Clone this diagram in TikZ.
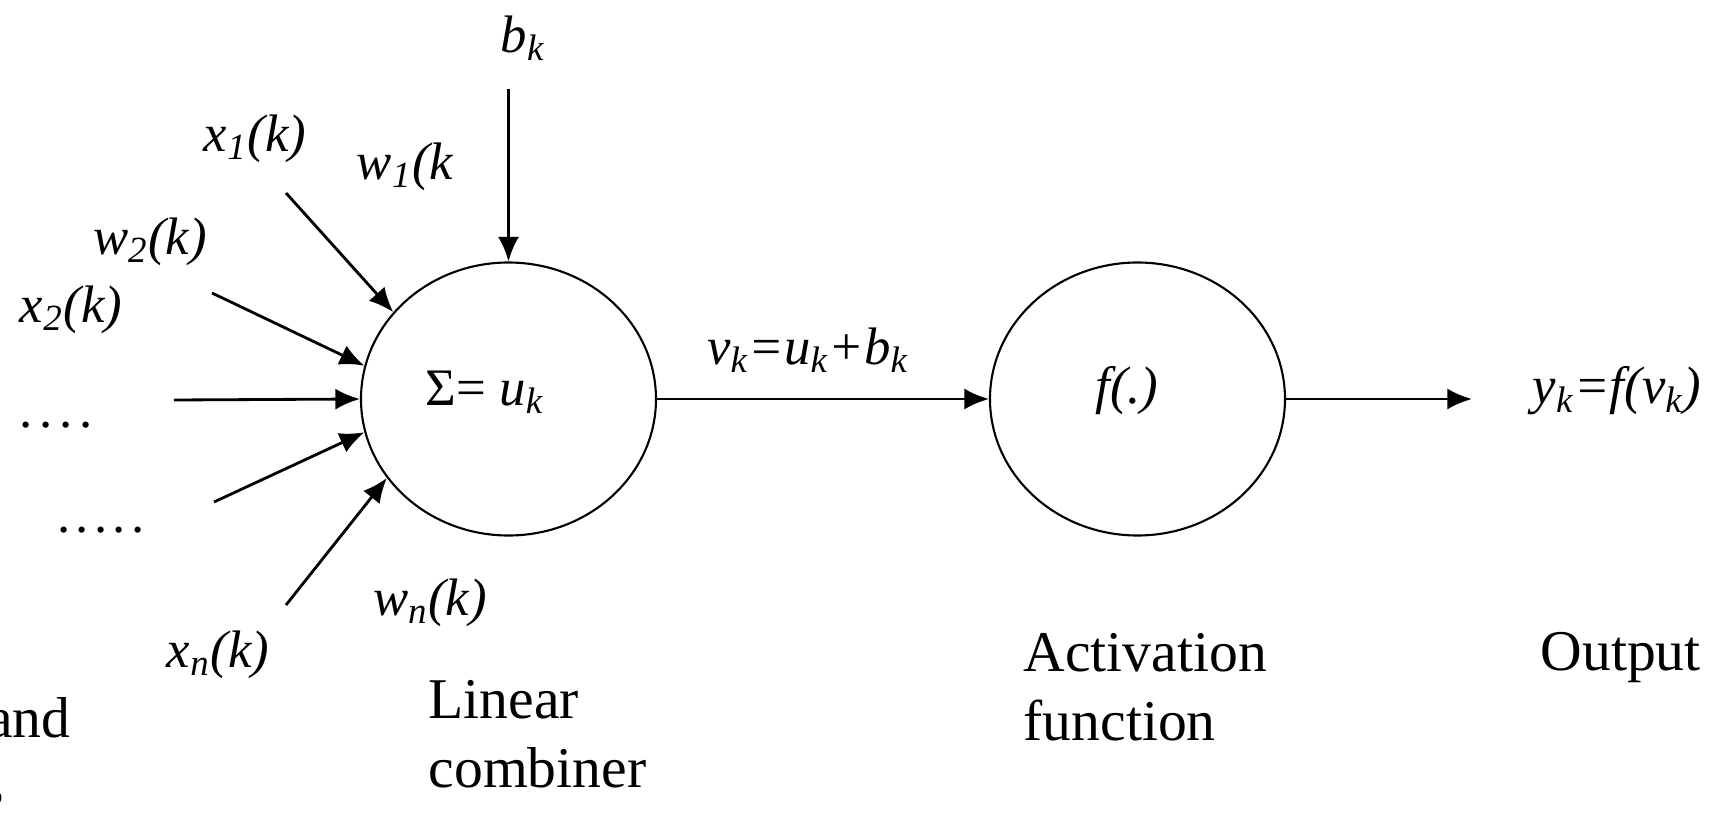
\documentclass[tikz,border=0pt]{standalone}
\usepackage{fontspec}
\setmainfont{Liberation Serif}
\usetikzlibrary{arrows.meta,shapes.geometric}

\begin{document}
\begin{tikzpicture}[>={Latex[length=7pt,width=6pt]},
   unit/.style={draw,ellipse,line width=0.6pt,minimum width=2.95cm,minimum height=2.73cm,inner sep=0pt},
   lbl/.style={font={\fontsize{15}{18}\selectfont\itshape},inner sep=0pt},
   desc/.style={font={\fontsize{16.4}{19.6}\selectfont},align=left,anchor=base west,inner sep=0pt},
   etc/.style={font={\fontsize{15}{18}\selectfont},inner sep=0pt},
   wire/.style={->,line width=0.8pt}]
  \useasboundingbox (0,0) rectangle (17.16,-8.17);
  \clip (0,0) rectangle (17.16,-8.17);

  % ---- neuron: combiner and activation ----
  \node[unit] (comb) at (5.085,-3.99) {};
  \node[unit] (act)  at (11.375,-3.99) {};
  \node[etc] (sum) at (4.85,-3.92) {Σ= \textit{u\textsubscript{k}}};
  \node[lbl] (fn) at (11.27,-3.91) {f(.)};

  % ---- inputs and bias ----
  \coordinate (in1) at (2.86,-1.93);
  \coordinate (in2) at (2.12,-2.93);
  \coordinate (in3) at (1.74,-4.00);
  \coordinate (in4) at (2.14,-5.02);
  \coordinate (in5) at (2.86,-6.05);
  \coordinate (bias) at (5.085,-0.89);
  \foreach \n/\a in {in1/143.5,in2/167,in3/180,in4/193.5,in5/213.7}{\draw[wire] (\n) -- (comb.\a);}
  \draw[wire] (bias) -- (comb.north);

  % ---- forward path ----
  \coordinate (out) at (14.72,-3.99);
  \draw[wire] (comb.east) -- (act.west);
  \draw[wire] (act.east) -- (out);

  % labels
  \node[lbl] (bk) at (5.23,-0.38) {b\textsubscript{k}};
  \node[lbl] (x1) at (2.55,-1.39) {x\textsubscript{1}(k)};
  \node[lbl] (w1) at (4.05,-1.67) {w\textsubscript{1}(k};
  \node[lbl] (w2) at (1.50,-2.42) {w\textsubscript{2}(k)};
  \node[lbl] (x2) at (0.71,-3.10) {x\textsubscript{2}(k)};
  \node[etc] (d1) at (0.56,-4.25) {.\hspace{2pt}.\hspace{2pt}.\hspace{2pt}.};
  \node[etc] (d2) at (1.01,-5.30) {.\hspace{1.5pt}.\hspace{1.5pt}.\hspace{1.5pt}.\hspace{1.5pt}.};
  \node[lbl] (wn) at (4.30,-6.03) {w\textsubscript{n}(k)};
  \node[lbl] (xn) at (2.18,-6.55) {x\textsubscript{n}(k)};
  \node[lbl] (vk) at (8.08,-3.50) {v\textsubscript{k}=u\textsubscript{k}+b\textsubscript{k}};
  \node[lbl,anchor=west] (yk) at (15.32,-3.91) {y\textsubscript{k}=f(v\textsubscript{k})};

  % ---- stage names ----
  \node[desc] (lin) at (4.28,-7.87) {Linear\\combiner};
  \node[desc] (actd) at (10.23,-7.40) {Activation\\function};
  \node[desc] (outd) at (15.40,-6.70) {Output};
  \node[desc,anchor=base east] (inp) at (0.71,-7.37) {and};
  \node[desc,anchor=base east] (inp2) at (0.05,-8.05) {s};
\end{tikzpicture}
\end{document}
